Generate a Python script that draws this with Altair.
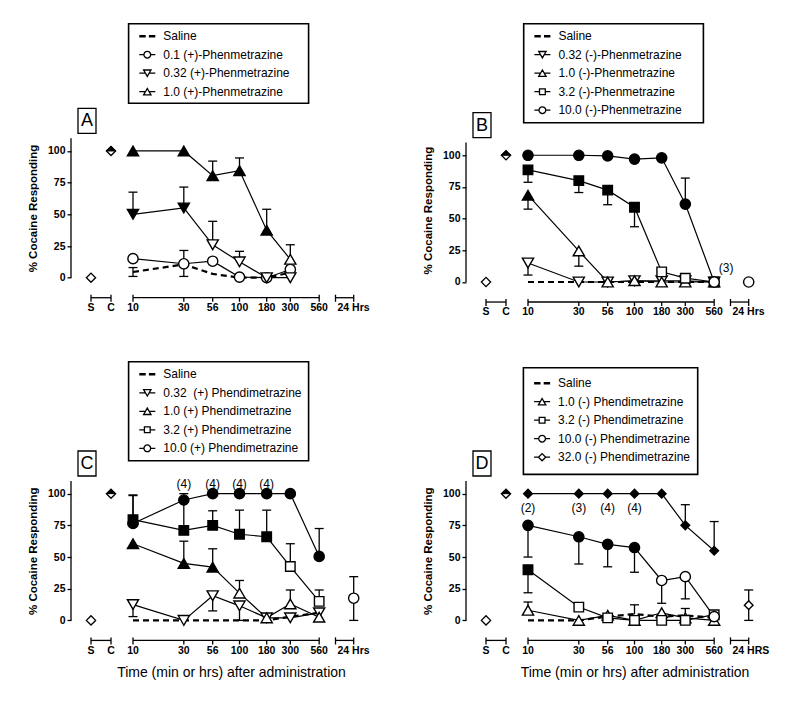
import math
import pandas as pd
import altair as alt

# ---------------- data ----------------
TIMES = [10, 30, 56, 100, 180, 300, 560]
TIME_LABELS = ["10", "30", "56", "100", "180", "300", "560"]
CONTROL_LABELS = ["S", "C"]
CONTROL_VALUES = [0, 100]          # saline (S) and cocaine (C) control points
Y_TICKS = [0, 25, 50, 75, 100]
X_TITLE = "Time (min or hrs) after administration"
Y_TITLE = "% Cocaine Responding"

# ---- Panel A : (+)-Phenmetrazine ----
A_NAMES = ["Saline", "0.1 (+)-Phenmetrazine", "0.32 (+)-Phenmetrazine", "1.0 (+)-Phenmetrazine"]
A_KINDS = ["dash", "circle", "tri_down", "tri_up"]
A_SAL = [4.5, 10.5, 3, 0, 0, 4, None]
A_SAL_HI = [8, None, None, None, None, None, None]
A_SAL_LO = [1, 1, None, None, None, None, None]
A_D1 = [15, 11, 13, 0.5, 0, 6.5, None]
A_D1_F = [0, 0, 0, 0, 0, 0, None]
A_D1_HI = [None, 21.5, None, None, None, None, None]
A_D2 = [50, 55, 26, 12.5, 0, 0, None]
A_D2_F = [1, 1, 0, 0, 0, 0, None]
A_D2_HI = [67.5, 71.5, 44.5, 20.8, None, None, None]
A_D3 = [100, 100, 80.5, 84.5, 37.5, 14.5, None]
A_D3_F = [1, 1, 1, 1, 1, 0, None]
A_D3_HI = [None, None, 92, 94.5, 54, 26, None]

# ---- Panel B : (-)-Phenmetrazine ----
B_NAMES = ["Saline", "0.32 (-)-Phenmetrazine", "1.0 (-)-Phenmetrazine", "3.2 (-)-Phenmetrazine", "10.0 (-)-Phenmetrazine"]
B_KINDS = ["dash", "tri_down", "tri_up", "square", "circle"]
B_SAL = [0, 0, 0, 0, 0, 0, 0]
B_D1 = [15, 0, 0, 1, 1, 1, 0]
B_D1_F = [0, 0, 0, 0, 0, 0, 0]
B_D1_LO = [5.5, None, None, None, None, None, None]
B_D2 = [68.5, 24.5, 0, 1, 0, 0, 0]
B_D2_F = [1, 0, 0, 0, 0, 0, 0]
B_D2_LO = [57.5, 12.5, None, None, None, None, None]
B_D3 = [88.5, 80, 72.5, 59, 8, 3, 0]
B_D3_F = [1, 1, 1, 1, 0, 0, 0]
B_D3_LO = [78.7, 70.6, 61, 43.6, None, None, None]
B_D4 = [100, 100, 99.5, 97, 98, 61.5, 0]
B_D4_F = [1, 1, 1, 1, 1, 1, 0]
B_D4_HI = [None, None, None, None, None, 82, None]
B_D4_24H = [0, None, None]          # value, low, high
B_NOTE_TEXT = ["(3)"]
B_NOTE_T = [560]
B_NOTE_Y = [11.3]

# ---- Panel C : (+) Phendimetrazine ----
C_NAMES = ["Saline", "0.32\u00a0 (+) Phendimetrazine", "1.0 (+) Phendimetrazine", "3.2 (+) Phendimetrazine", "10.0 (+) Phendimetrazine"]
C_KINDS = ["dash", "tri_down", "tri_up", "square", "circle"]
C_SAL = [0, 0, 0, 0, 0, 3, 6]
C_D1 = [12.5, 0, 19.5, 11.5, 2, 2, 6]
C_D1_F = [0, 0, 0, 0, 0, 0, 0]
C_D1_LO = [3, None, 7.5, 0, None, None, None]
C_D2 = [60.5, 45, 42, 21.5, 2, 13, 2.5]
C_D2_F = [1, 1, 1, 0, 0, 0, 0]
C_D2_HI = [None, 62.5, 56.5, 31.5, None, 24, None]
C_D3 = [79.5, 71, 75, 68, 66, 42.5, 15]
C_D3_F = [1, 1, 1, 1, 1, 0, 0]
C_D3_HI = [98.5, 100, 86.5, 87, 87, 60.5, 24]
C_D4 = [76.5, 95, 100, 100, 100, 100, 50.5]
C_D4_F = [1, 1, 1, 1, 1, 1, 1]
C_D4_HI = [99, None, None, None, None, None, 72.5]
C_D4_24H = [17.5, 0, 34.5]
C_NOTE_TEXT = ["(4)", "(4)", "(4)", "(4)"]
C_NOTE_T = [30, 56, 100, 180]
C_NOTE_Y = [107.8, 107.8, 107.8, 107.8]

# ---- Panel D : (-) Phendimetrazine ----
D_NAMES = ["Saline", "1.0 (-) Phendimetrazine", "3.2 (-) Phendimetrazine", "10.0 (-) Phendimetrazine", "32.0 (-) Phendimetrazine"]
D_KINDS = ["dash", "tri_up", "square", "circle", "diamond"]
D_SAL = [0, 0, 3, 5, 3, 4, 2]
D_SAL_HI = [None, None, None, 12.3, None, 9.4, None]
D_D1 = [8, 0, 4, 0, 6, 2, 0]
D_D1_F = [0, 0, 0, 0, 0, 0, 0]
D_D1_HI = [14.5, None, None, None, None, None, None]
D_D2 = [40, 10.5, 2, 0, 0, 0, 4.5]
D_D2_F = [1, 0, 0, 0, 0, 0, 0]
D_D2_LO = [21.8, None, None, None, None, None, None]
D_D3 = [75, 66, 60, 57.5, 31.5, 34.5, 3]
D_D3_F = [1, 1, 1, 1, 0, 0, 0]
D_D3_LO = [50, 44.5, 42.3, 38, 13.5, 17, None]
D_D4 = [100, 100, 100, 100, 100, 75, 55]
D_D4_F = [1, 1, 1, 1, 1, 1, 1]
D_D4_HI = [None, None, None, None, None, 91.3, 78]
D_D4_24H = [12, 0, 24]
D_NOTE_TEXT = ["(2)", "(3)", "(4)", "(4)"]
D_NOTE_T = [10, 30, 56, 100]
D_NOTE_Y = [88.5, 88.5, 88.5, 88.5]

# ---------------- layout / style ----------------
FONT = "Liberation Sans"
PX_PER_DECADE = 106.5
PLOT_W = 300
PLOT_H = 139.4
Y_TOP = 110
PX_PER_UNIT = PLOT_H / Y_TOP
X_LO = 1 - 62 / PX_PER_DECADE
X_HI = X_LO + PLOT_W / PX_PER_DECADE
POS_CTRL = [X_LO + 20 / PX_PER_DECADE, X_LO + 40 / PX_PER_DECADE]
POS_24 = X_LO + 282.7 / PX_PER_DECADE
POS_24_START = X_LO + 264.5 / PX_PER_DECADE
AXIS_Y = -15.8
TICK_UP = -13.4
TICK_DN = -19.0
LABEL_Y = -20.0

SIZE = {"circle": 105, "tri_down": 125, "tri_up": 125, "square": 90, "diamond": 75}
SHAPE = {"circle": "circle", "tri_down": "triangle-down", "tri_up": "triangle-up",
         "square": "square", "diamond": "diamond"}
LEG_PATH = {
    "dash": "M-1,-0.07H-0.2M-1,0.07H-0.2M0.2,-0.07H1M0.2,0.07H1",
    "circle": "M-1,0H-0.42M0.42,0H1M-0.42,0A0.42,0.42,0,1,1,0.42,0A0.42,0.42,0,1,1,-0.42,0Z",
    "tri_down": "M-1,0H-0.23M0.23,0H1M-0.46,-0.4L0.46,-0.4L0,0.4Z",
    "tri_up": "M-1,0H-0.23M0.23,0H1M-0.46,0.4L0.46,0.4L0,-0.4Z",
    "square": "M-1,0H-0.36M0.36,0H1M-0.36,-0.36H0.36V0.36H-0.36Z",
    "diamond": "M-1,0H-0.45M0.45,0H1M-0.45,0L0,-0.45L0.45,0L0,0.45Z",
}

XS = alt.Scale(domain=[X_LO, X_HI], nice=False, zero=False)
YAXIS = alt.Axis(values=Y_TICKS, title=Y_TITLE, titleFont=FONT, titleFontSize=11.5,
                 titleFontWeight="bold", titleColor="black", titlePadding=9,
                 labelFont=FONT, labelFontSize=10.5, labelFontWeight="bold",
                 labelColor="black", labelPadding=2, tickSize=4, tickColor="black",
                 tickWidth=1.3, domain=False, grid=False)


def X(f):
    return alt.X(f, type="quantitative", scale=XS, axis=None)


def make_panel(letter, names, kinds, series, h24, notes, box, h24_label,
               xtitle_pos=None, note_dx=0, first_row=12, extra_top=0.0):
    ys_scale = alt.Scale(domain=[0, Y_TOP + extra_top / PX_PER_UNIT], nice=False, zero=False)

    def Y(f):
        return alt.Y(f, type="quantitative", scale=ys_scale, axis=YAXIS)

    line_rows, pt_rows, err_rows = [], [], []
    for name, kind, (ys, fills, his, los) in zip(names, kinds, series):
        for i, t in enumerate(TIMES):
            y = ys[i]
            if y is None:
                continue
            p = math.log10(t)
            line_rows.append({"series": name, "dash": kind == "dash", "pos": p, "y": y})
            if kind != "dash":
                pt_rows.append({"kind": kind, "pos": p, "y": y,
                                "fc": "black" if fills[i] else "white", "sz": SIZE[kind]})
            for ends in (his, los):
                if ends is not None and ends[i] is not None:
                    err_rows.append({"pos": p, "y": y, "yend": ends[i]})
    if h24 is not None:
        kind, (v, lo, hi) = h24
        pt_rows.append({"kind": kind, "pos": POS_24, "y": v, "fc": "white", "sz": SIZE[kind]})
        for e in (lo, hi):
            if e is not None:
                err_rows.append({"pos": POS_24, "y": v, "yend": e})

    lines = pd.DataFrame(line_rows)
    pts = pd.DataFrame(pt_rows)
    errs = pd.DataFrame(err_rows)
    ctrl = pd.DataFrame({"pos": POS_CTRL, "y": CONTROL_VALUES, "lab": CONTROL_LABELS})

    segs = pd.DataFrame({"x": [POS_CTRL[0], math.log10(TIMES[0]), POS_24_START],
                         "x2": [POS_CTRL[1], math.log10(TIMES[-1]), POS_24],
                         "yy": [AXIS_Y] * 3})
    tick_pos = POS_CTRL + [math.log10(t) for t in TIMES] + [POS_24_START, POS_24]
    ends = {0, 1, 2, len(TIMES) + 1, len(TIMES) + 2, len(TIMES) + 3}
    ticks = pd.DataFrame({"pos": tick_pos,
                          "y1": [TICK_UP if i in ends else AXIS_Y for i in range(len(tick_pos))],
                          "y2": [TICK_DN] * len(tick_pos)})
    labs = pd.DataFrame({"pos": POS_CTRL + [math.log10(t) for t in TIMES],
                         "yy": [LABEL_Y] * (2 + len(TIMES)),
                         "lab": CONTROL_LABELS + TIME_LABELS})
    lab24 = pd.DataFrame({"pos": [POS_24_START], "yy": [LABEL_Y], "lab": [h24_label]})
    yline = pd.DataFrame({"y0": [0], "y1": [Y_TOP]})
    dy = -extra_top  # pixel offset of the 110-line below the group top

    layers = []
    # y axis line (0..110)
    layers.append(alt.Chart(yline).mark_rule(color="black", strokeWidth=1.3).encode(
        x=alt.value(0), y=Y("y0"), y2="y1"))
    layers.append(alt.Chart(segs).mark_rule(color="black", strokeWidth=1.3).encode(
        x=X("x"), x2="x2", y=Y("yy")))
    layers.append(alt.Chart(ticks).mark_rule(color="black", strokeWidth=1.3).encode(
        x=X("pos"), y=Y("y1"), y2="y2"))
    layers.append(alt.Chart(labs).mark_text(font=FONT, fontSize=10.5, fontWeight="bold",
                                            baseline="top", align="center", color="black").encode(
        x=X("pos"), y=Y("yy"), text="lab:N"))
    layers.append(alt.Chart(lab24).mark_text(font=FONT, fontSize=10.5, fontWeight="bold",
                                             baseline="top", align="left", dx=2, color="black").encode(
        x=X("pos"), y=Y("yy"), text="lab:N"))
    # saline dashed line
    layers.append(alt.Chart(lines[lines["dash"]]).mark_line(
        color="black", strokeWidth=2.2, strokeDash=[6, 4]).encode(
        x=X("pos"), y=Y("y"), detail="series:N"))
    # drug lines
    layers.append(alt.Chart(lines[~lines["dash"]]).mark_line(
        color="black", strokeWidth=1.2).encode(
        x=X("pos"), y=Y("y"), detail="series:N"))
    # error bars + caps
    layers.append(alt.Chart(errs).mark_rule(color="black", strokeWidth=1.3).encode(
        x=X("pos"), y=Y("y"), y2="yend"))
    layers.append(alt.Chart(errs).mark_rule(color="black", strokeWidth=1.3,
                                            xOffset=-4.5, x2Offset=4.5).encode(
        x=X("pos"), x2="pos", y=Y("yend")))
    # S / C control points
    layers.append(alt.Chart(ctrl).mark_point(shape="diamond", filled=True, fill="white",
                                             stroke="black", strokeWidth=1.3, size=85, opacity=1).encode(
        x=X("pos"), y=Y("y")))
    layers.append(alt.Chart(ctrl[ctrl["lab"] == "C"]).mark_point(
        shape="M-1,0L0,-1L1,0Z", filled=True, fill="black", stroke="black",
        strokeWidth=1, size=85, opacity=1).encode(x=X("pos"), y=Y("y")))
    # markers
    kd = list(SHAPE.keys())
    layers.append(alt.Chart(pts).mark_point(filled=True, stroke="black", strokeWidth=1.4,
                                            opacity=1).encode(
        x=X("pos"), y=Y("y"),
        shape=alt.Shape("kind:N", scale=alt.Scale(domain=kd, range=[SHAPE[k] for k in kd]),
                        legend=None),
        fill=alt.Fill("fc:N", scale=None),
        size=alt.Size("sz:Q", scale=None)))
    # annotations
    if notes is not None:
        texts, ts, yv = notes
        nd = pd.DataFrame({"pos": [math.log10(t) for t in ts], "y": yv, "lab": texts})
        layers.append(alt.Chart(nd).mark_text(font=FONT, fontSize=12, color="black",
                                              baseline="middle", dx=note_dx).encode(
            x=X("pos"), y=Y("y"), text="lab:N"))
    # panel letter box
    one = pd.DataFrame({"lab": [letter]})
    layers.append(alt.Chart(one).mark_rect(fill="white", stroke="black", strokeWidth=1.3).encode(
        x=alt.value(7), x2=alt.value(25), y=alt.value(-30 - dy), y2=alt.value(-5 - dy)))
    layers.append(alt.Chart(one).mark_text(font=FONT, fontSize=18, color="black",
                                           baseline="middle", align="center").encode(
        x=alt.value(16), y=alt.value(-17 - dy), text="lab:N"))
    # legend frame
    bx0, by0, bx1, by1 = box
    layers.append(alt.Chart(one).mark_rect(fill="white", fillOpacity=0, stroke="black",
                                           strokeWidth=1.6).encode(
        x=alt.value(bx0), x2=alt.value(bx1), y=alt.value(by0), y2=alt.value(by1)))
    if xtitle_pos is not None:
        xt = pd.DataFrame({"pos": [xtitle_pos], "yy": [-41.5], "lab": [X_TITLE]})
        layers.append(alt.Chart(xt).mark_text(font=FONT, fontSize=14, color="black",
                                              baseline="middle", align="center").encode(
            x=X("pos"), y=Y("yy"), text="lab:N"))
    # legend entries
    legdf = pd.DataFrame({"series": names})
    layers.append(alt.Chart(legdf).transform_filter("false").mark_point(
        filled=False, color="black", strokeWidth=1.3, opacity=1).encode(
        shape=alt.Shape("series:N",
                        scale=alt.Scale(domain=names, range=[LEG_PATH[k] for k in kinds]),
                        legend=alt.Legend(orient="none", legendX=bx0 - 0.3,
                                          legendY=by0 + first_row - 11.5,
                                          title=None, padding=3,
                                          rowPadding=3.5, symbolSize=256, symbolStrokeWidth=1.3,
                                          symbolStrokeColor="black",
                                          symbolOpacity=1, symbolOffset=7, labelOffset=7,
                                          labelFont=FONT, labelFontSize=12, labelColor="black",
                                          labelLimit=400))))
    return alt.layer(*layers).resolve_scale(shape="independent").properties(
        width=PLOT_W, height=PLOT_H + extra_top)


pA = make_panel("A", A_NAMES, A_KINDS,
                [(A_SAL, None, A_SAL_HI, A_SAL_LO), (A_D1, A_D1_F, A_D1_HI, None),
                 (A_D2, A_D2_F, A_D2_HI, None), (A_D3, A_D3_F, A_D3_HI, None)],
                None, None, (57.6, -114.6, 237.6, -35.0), "24 Hrs")
pB = make_panel("B", B_NAMES, B_KINDS,
                [(B_SAL, None, None, None), (B_D1, B_D1_F, None, B_D1_LO),
                 (B_D2, B_D2_F, None, B_D2_LO), (B_D3, B_D3_F, None, B_D3_LO),
                 (B_D4, B_D4_F, B_D4_HI, None)],
                ("circle", B_D4_24H), (B_NOTE_TEXT, B_NOTE_T, B_NOTE_Y),
                (57.7, -114.6, 237.4, -15.6), "24 Hrs", note_dx=12, extra_top=4.3)
pC = make_panel("C", C_NAMES, C_KINDS,
                [(C_SAL, None, None, None), (C_D1, C_D1_F, None, C_D1_LO),
                 (C_D2, C_D2_F, C_D2_HI, None), (C_D3, C_D3_F, C_D3_HI, None),
                 (C_D4, C_D4_F, C_D4_HI, None)],
                ("circle", C_D4_24H), (C_NOTE_TEXT, C_NOTE_T, C_NOTE_Y),
                (57.6, -119.2, 237.6, -20.2), "24 Hrs",
                xtitle_pos=X_LO + 160.5 / PX_PER_DECADE)
pD = make_panel("D", D_NAMES, D_KINDS,
                [(D_SAL, None, D_SAL_HI, None), (D_D1, D_D1_F, D_D1_HI, None),
                 (D_D2, D_D2_F, None, D_D2_LO), (D_D3, D_D3_F, None, D_D3_LO),
                 (D_D4, D_D4_F, D_D4_HI, None)],
                ("diamond", D_D4_24H), (D_NOTE_TEXT, D_NOTE_T, D_NOTE_Y),
                (57.4, -113.3, 231.7, -6.6), "24 HRS",
                xtitle_pos=X_LO + 169 / PX_PER_DECADE, first_row=15)

top = alt.hconcat(pA, pB, spacing=51).resolve_scale(shape="independent")
bottom = alt.hconcat(pC, pD, spacing=51).resolve_scale(shape="independent")
chart = alt.vconcat(top, bottom, spacing=42.7).resolve_scale(shape="independent").properties(
    padding={"left": 19, "top": 14.3, "right": 0, "bottom": 0},
    background="white",
).configure_view(stroke=None)

chart.save("out.html", embed_options={"renderer": "svg", "actions": False})
